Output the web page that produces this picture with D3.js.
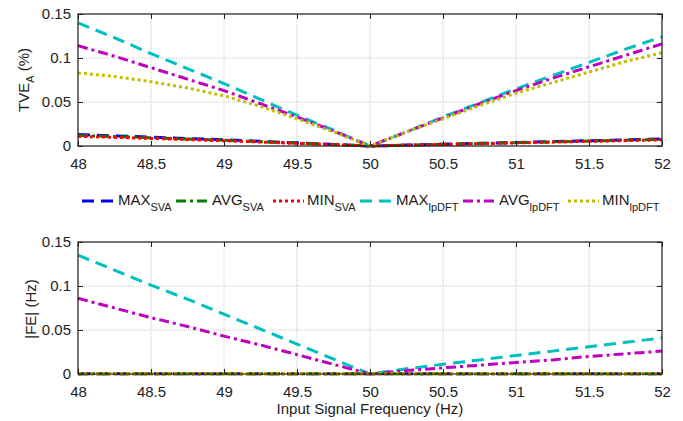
<!DOCTYPE html>
<html><head><meta charset="utf-8">
<script src="https://cdn.jsdelivr.net/npm/d3@7"></script>
<style>body{margin:0;background:#fff}svg{display:block;font-family:"Liberation Sans",Arial,sans-serif}</style>
</head><body>
<svg id="c" width="683" height="421"></svg>
<script>
const freq = [48,48.25,48.5,48.75,49,49.25,49.5,49.75,50,50.25,50.5,50.75,51,51.25,51.5,51.75,52];
// TVE_A (%)
const tveMaxSVA   = [0.013,0.0115,0.0100,0.0085,0.0070,0.0053,0.0036,0.0018,0,0.0010,0.0020,0.0030,0.0040,0.0050,0.0060,0.0070,0.0080];
const tveAvgSVA   = [0.012,0.0107,0.0093,0.0079,0.0065,0.0049,0.0033,0.0017,0,0.0009,0.0019,0.0028,0.0038,0.0047,0.0057,0.0066,0.0075];
const tveMinSVA   = [0.011,0.0098,0.0086,0.0073,0.0060,0.0045,0.0030,0.0015,0,0.0009,0.0018,0.0026,0.0035,0.0044,0.0053,0.0061,0.0070];
const tveMaxLp    = [0.140,0.123,0.105,0.088,0.071,0.053,0.035,0.018,0,0.016,0.033,0.049,0.065,0.080,0.095,0.110,0.124];
const tveAvgLp    = [0.114,0.102,0.089,0.076,0.063,0.048,0.033,0.017,0,0.016,0.032,0.048,0.063,0.077,0.090,0.103,0.116];
const tveMinLp    = [0.083,0.079,0.073,0.066,0.057,0.045,0.031,0.016,0,0.016,0.031,0.046,0.060,0.072,0.084,0.096,0.106];
// |FE| (Hz)
const feMaxSVA    = [0.0004,0.0004,0.0004,0.0004,0.0004,0.0004,0.0004,0.0004,0.0004,0.0004,0.0004,0.0004,0.0004,0.0004,0.0004,0.0004,0.0004];
const feAvgSVA    = [0.0003,0.0003,0.0003,0.0003,0.0003,0.0003,0.0003,0.0003,0.0003,0.0003,0.0003,0.0003,0.0003,0.0003,0.0003,0.0003,0.0003];
const feMinSVA    = [0.0002,0.0002,0.0002,0.0002,0.0002,0.0002,0.0002,0.0002,0.0002,0.0002,0.0002,0.0002,0.0002,0.0002,0.0002,0.0002,0.0002];
const feMaxLp     = [0.135,0.118,0.101,0.085,0.068,0.051,0.034,0.017,0,0.006,0.011,0.016,0.021,0.026,0.031,0.036,0.041];
const feAvgLp     = [0.086,0.075,0.064,0.054,0.043,0.033,0.022,0.011,0,0.004,0.007,0.010,0.013,0.016,0.020,0.023,0.026];
const feMinLp     = [0.0003,0.0003,0.0003,0.0003,0.0003,0.0003,0.0003,0.0003,0.0003,0.0003,0.0003,0.0003,0.0003,0.0003,0.0003,0.0003,0.0003];

const xTicks = [48,48.5,49,49.5,50,50.5,51,51.5,52];
const yTicks = [0,0.05,0.1,0.15];
const seriesNames = ["MAX","AVG","MIN","MAX","AVG","MIN"];
const seriesSubs  = ["SVA","SVA","SVA","lpDFT","lpDFT","lpDFT"];
const colors = ["#0000ff","#008000","#ff0000","#00bfbf","#bf00bf","#bfbf00"];
const dashes = ["12,7","10,4,3,4","3,3","12,7","10,4,3,4","3,3"];

const svg = d3.select("#c");
const L = 78, R = 662;
const x = d3.scaleLinear().domain([48,52]).range([L,R]);

function panel(top, bottom, data){
  const y = d3.scaleLinear().domain([0,0.15]).range([bottom,top]);
  const g = svg.append("g");
  // grid
  g.selectAll(".gx").data(xTicks).enter().append("line")
    .attr("x1",d=>x(d)).attr("x2",d=>x(d)).attr("y1",top).attr("y2",bottom)
    .attr("stroke","#c8c8c8").attr("stroke-width",1).attr("stroke-dasharray","1,1");
  g.selectAll(".gy").data(yTicks).enter().append("line")
    .attr("x1",L).attr("x2",R).attr("y1",d=>y(d)).attr("y2",d=>y(d))
    .attr("stroke","#c8c8c8").attr("stroke-width",1).attr("stroke-dasharray","1,1");
  // lines
  const line = d3.line().x((d,i)=>x(freq[i])).y(d=>y(d));
  data.forEach((s,k)=>{
    g.append("path").attr("d",line(s)).attr("fill","none")
      .attr("stroke",colors[k]).attr("stroke-width",3).attr("stroke-dasharray",dashes[k]);
  });
  // axes
  const ax = g.append("g").attr("transform",`translate(0,${bottom})`)
    .call(d3.axisBottom(x).tickValues(xTicks).tickFormat(d3.format("")).tickSizeInner(-5).tickSizeOuter(0).tickPadding(12));
  const axT = g.append("g").attr("transform",`translate(0,${top})`)
    .call(d3.axisTop(x).tickValues(xTicks).tickFormat("").tickSizeInner(-5).tickSizeOuter(0));
  const ay = g.append("g").attr("transform",`translate(${L},0)`)
    .call(d3.axisLeft(y).tickValues(yTicks).tickFormat(d=>String(d)).tickSizeInner(-5).tickSizeOuter(0).tickPadding(7));
  const ayR = g.append("g").attr("transform",`translate(${R},0)`)
    .call(d3.axisRight(y).tickValues(yTicks).tickFormat("").tickSizeInner(-5).tickSizeOuter(0));
  [ax,axT,ay,ayR].forEach(a=>{a.select(".domain").remove(); a.selectAll("line").attr("stroke","#222");
    a.selectAll("text").attr("font-size",15).attr("fill","#222").attr("font-family","Liberation Sans, Arial, sans-serif");});
  g.append("rect").attr("x",L).attr("y",top).attr("width",R-L).attr("height",bottom-top)
    .attr("fill","none").attr("stroke","#222").attr("stroke-width",1.2);
  return g;
}
panel(14,146,[tveMaxSVA,tveAvgSVA,tveMinSVA,tveMaxLp,tveAvgLp,tveMinLp]);
panel(242,374,[feMaxSVA,feAvgSVA,feMinSVA,feMaxLp,feAvgLp,feMinLp]);

// y labels
const yl1 = svg.append("text").attr("transform","translate(29,80) rotate(-90)")
  .attr("text-anchor","middle").attr("font-size",15).attr("fill","#222");
yl1.append("tspan").text("TVE");
yl1.append("tspan").attr("font-size",11).attr("dy",5).text("A");
yl1.append("tspan").attr("dy",-5).text(" (%)");
svg.append("text").attr("transform","translate(36,309) rotate(-90)")
  .attr("text-anchor","middle").attr("font-size",15).attr("fill","#222").text("|FE| (Hz)");
svg.append("text").attr("x",370).attr("y",414).attr("text-anchor","middle")
  .attr("font-size",15).attr("fill","#222").text("Input Signal Frequency (Hz)");

// legend
const legX = [82,176,273,360,463,568];
const legW = [33,33,31,33,33,31];
seriesNames.forEach((n,k)=>{
  const lg = svg.append("g");
  lg.append("line").attr("x1",legX[k]).attr("x2",legX[k]+legW[k]).attr("y1",201).attr("y2",201)
    .attr("stroke",colors[k]).attr("stroke-width",3).attr("stroke-dasharray",dashes[k]);
  const t = lg.append("text").attr("x",legX[k]+legW[k]+3).attr("y",205).attr("font-size",15).attr("fill","#222");
  t.append("tspan").text(n);
  t.append("tspan").attr("font-size",11).attr("dy",6).text(seriesSubs[k]);
});
</script>
</body></html>
